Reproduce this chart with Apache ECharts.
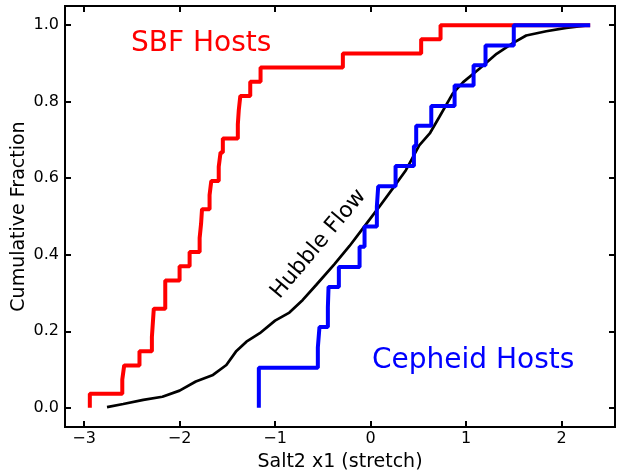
<!DOCTYPE html>
<html>
<head>
<meta charset="utf-8">
<script src="https://cdn.jsdelivr.net/npm/echarts@6/dist/echarts.min.js"></script>
<style>
html,body{margin:0;padding:0;background:#fff;}
#c{width:617px;height:472px;}
</style>
</head>
<body>
<div id="c"></div>
<script>
// ---- data ----
// SBF hosts ECDF: step positions (x) and cumulative fraction after step (y)
var sbfX = [-2.94, -2.94, -2.60, -2.58, -2.42, -2.29, -2.27, -2.15, -2.00, -1.895, -1.79, -1.775, -1.765, -1.686, -1.668, -1.59, -1.571, -1.547, -1.39, -1.38, -1.364, -1.26, -1.152, -0.29, 0.53, 0.733, 2.30];
var sbfY = [0.000, 0.037, 0.074, 0.111, 0.148, 0.185, 0.259, 0.333, 0.370, 0.407, 0.444, 0.481, 0.519, 0.556, 0.593, 0.630, 0.667, 0.704, 0.741, 0.778, 0.815, 0.852, 0.889, 0.926, 0.963, 1.000, 1.000];

// Cepheid hosts ECDF
var cephX = [-1.17, -1.17, -0.552, -0.535, -0.447, -0.44, -0.332, -0.115, -0.063, 0.066, 0.08, 0.262, 0.454, 0.478, 0.636, 0.88, 1.079, 1.204, 1.50, 2.30];
var cephY = [0.000, 0.105, 0.158, 0.211, 0.263, 0.316, 0.368, 0.421, 0.474, 0.526, 0.579, 0.632, 0.684, 0.737, 0.789, 0.842, 0.895, 0.947, 1.000, 1.000];

// Hubble flow cumulative curve
var hubX = [-2.76, -2.59, -2.38, -2.18, -2.00, -1.83, -1.65, -1.51, -1.41, -1.30, -1.16, -1.00, -0.85, -0.71, -0.57, -0.38, -0.22, -0.08, 0.09, 0.27, 0.37, 0.51, 0.62, 0.72, 0.86, 0.97, 1.14, 1.32, 1.49, 1.63, 1.84, 2.05, 2.29];
var hubY = [0.002, 0.010, 0.021, 0.029, 0.045, 0.069, 0.086, 0.112, 0.147, 0.173, 0.195, 0.228, 0.249, 0.282, 0.321, 0.375, 0.423, 0.469, 0.525, 0.586, 0.621, 0.686, 0.717, 0.760, 0.821, 0.851, 0.886, 0.925, 0.953, 0.973, 0.984, 0.993, 1.000];

var xTicks = [-3, -2, -1, 0, 1, 2];
var yTicks = [0.0, 0.2, 0.4, 0.6, 0.8, 1.0];

var xTitle = 'Salt2 x1 (stretch)';
var yTitle = 'Cumulative Fraction';
var sbfLabel = 'SBF Hosts';
var cephLabel = 'Cepheid Hosts';
var hubLabel = 'Hubble Flow';

function zip(a, b) { return a.map(function (v, i) { return [v, b[i]]; }); }

var FONT = 'DejaVu Sans';
var chart = echarts.init(document.getElementById('c'), null, {renderer: 'canvas'});

function xAxisCfg(pos, showLabel) {
  return {
    type: 'value', position: pos, min: -3.2, max: 2.56,
    axisLine: {show: false, onZero: false},
    splitLine: {show: false},
    axisTick: {show: true, inside: true, length: 6, customValues: xTicks, lineStyle: {color: '#000', width: 2}},
    axisLabel: {show: showLabel, customValues: xTicks, margin: 4, fontSize: 16, color: '#000', fontFamily: FONT,
      formatter: function (v) { return v < 0 ? '\u2212' + Math.abs(v) : String(v); }},
    name: showLabel ? xTitle : '', nameLocation: 'middle', nameGap: 26, nameMoveOverlap: false,
    nameTextStyle: {fontSize: 19, color: '#000', fontFamily: FONT}
  };
}
function yAxisCfg(pos, showLabel) {
  return {
    type: 'value', position: pos, min: -0.05, max: 1.05,
    axisLine: {show: false, onZero: false},
    splitLine: {show: false},
    axisTick: {show: true, inside: true, length: 6, customValues: yTicks, lineStyle: {color: '#000', width: 2}},
    axisLabel: {show: showLabel, customValues: yTicks, margin: 6, fontSize: 16, color: '#000', fontFamily: FONT,
      formatter: function (v) { return v.toFixed(1); }},
    name: showLabel ? yTitle : '', nameLocation: 'middle', nameGap: 36, nameRotate: 90, nameMoveOverlap: false,
    nameTextStyle: {fontSize: 19, color: '#000', fontFamily: FONT}
  };
}

chart.setOption({
  animation: false,
  backgroundColor: '#fff',
  grid: {left: 65, right: 2, top: 6, bottom: 45, show: true, borderColor: '#000', borderWidth: 2, containLabel: false, outerBoundsMode: 'none'},
  xAxis: [xAxisCfg('bottom', true), xAxisCfg('top', false)],
  yAxis: [yAxisCfg('left', true), yAxisCfg('right', false)],
  series: [
    {type: 'line', name: hubLabel, data: zip(hubX, hubY), xAxisIndex: 0, yAxisIndex: 0, showSymbol: false, symbol: 'none',
      lineStyle: {color: '#000', width: 2.7}, z: 2},
    {type: 'line', name: sbfLabel, data: zip(sbfX, sbfY), step: 'end', xAxisIndex: 0, yAxisIndex: 0, showSymbol: false, symbol: 'none',
      lineStyle: {color: '#ff0000', width: 4}, z: 3},
    {type: 'line', name: cephLabel, data: zip(cephX, cephY), step: 'end', xAxisIndex: 0, yAxisIndex: 0, showSymbol: false, symbol: 'none',
      lineStyle: {color: '#0000ff', width: 4}, z: 4}
  ],
  graphic: [
    {type: 'text', left: 131, top: 30, style: {text: sbfLabel, fill: '#ff0000', font: '28px "DejaVu Sans"'}},
    {type: 'text', left: 372, top: 347, style: {text: cephLabel, fill: '#0000ff', font: '28px "DejaVu Sans"'}},
    {type: 'text', x: 318.5, y: 244, rotation: 50 * Math.PI / 180,
      style: {text: hubLabel, fill: '#000', font: '22px "DejaVu Sans"', align: 'center', verticalAlign: 'middle'}}
  ]
});
</script>
</body>
</html>
